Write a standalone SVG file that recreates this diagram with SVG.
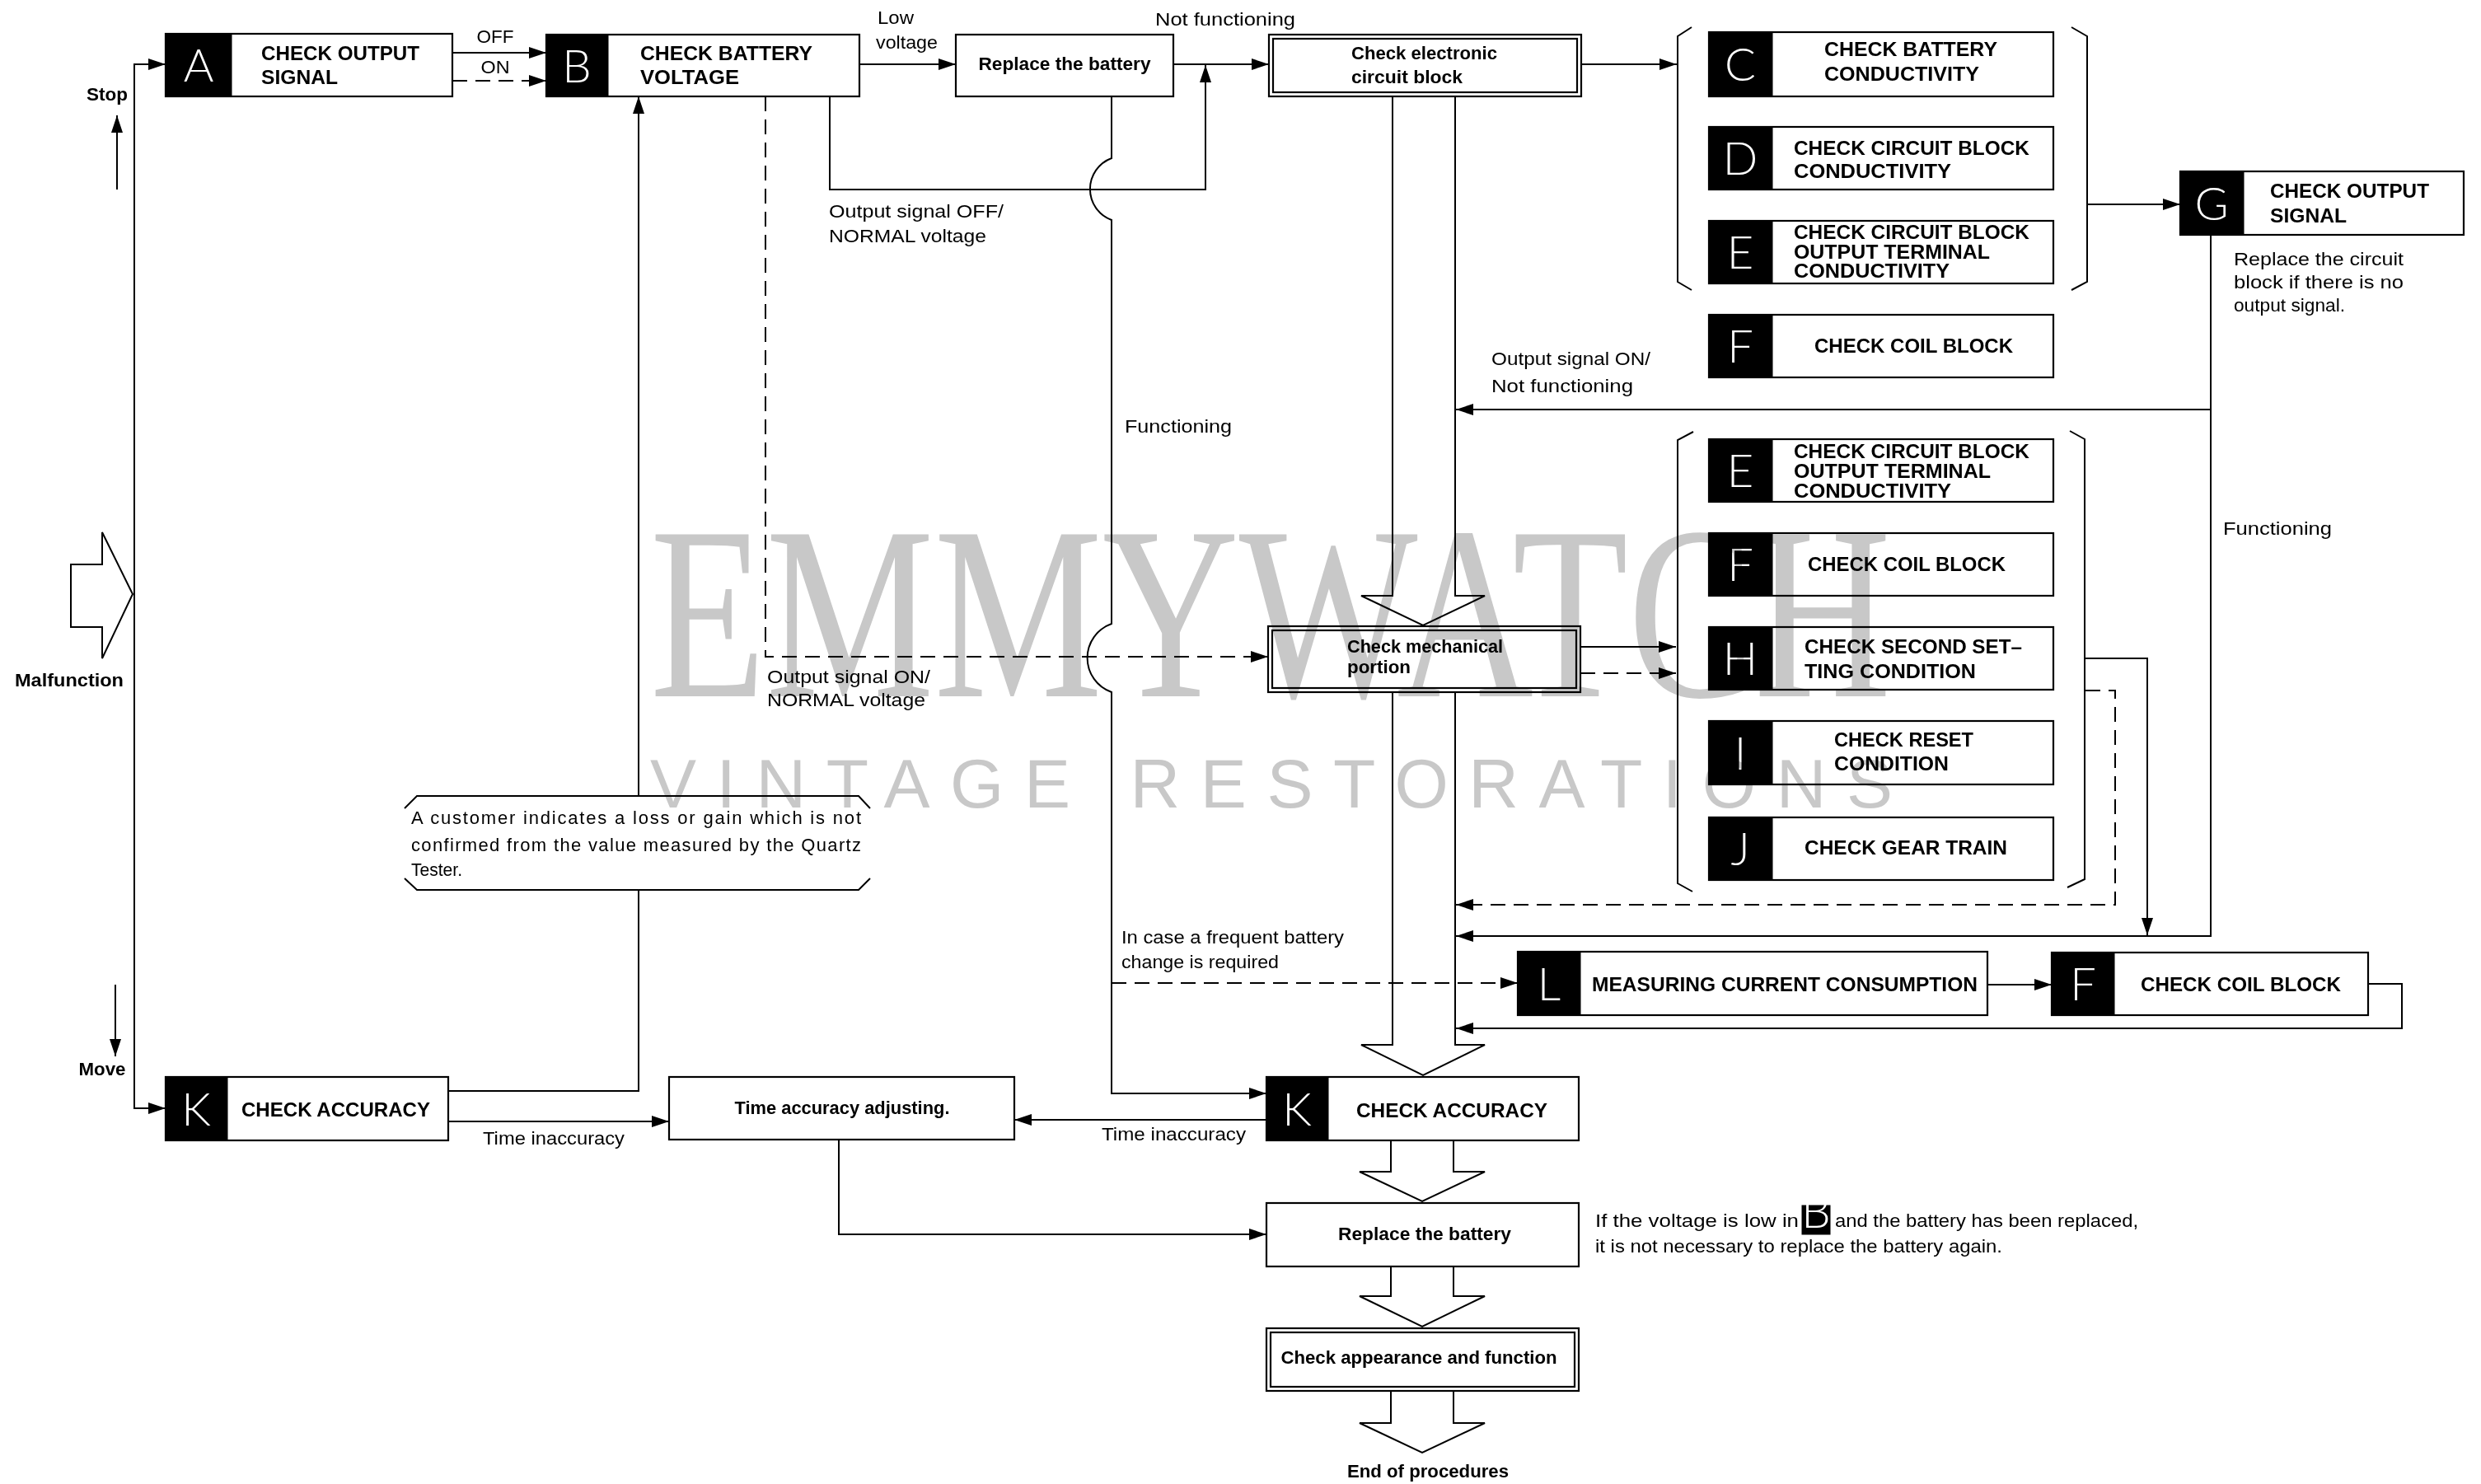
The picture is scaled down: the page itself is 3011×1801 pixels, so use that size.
<svg xmlns="http://www.w3.org/2000/svg" width="3011" height="1801" viewBox="0 0 3011 1801">
<defs>
<marker id="ah" markerUnits="userSpaceOnUse" markerWidth="22" markerHeight="16" refX="21" refY="7" orient="auto"><path d="M0,0 L21,7 L0,14 z" fill="#000"/></marker>
</defs>
<style>
.box{fill:#fff;stroke:#000;stroke-width:2.2}
.blk{fill:#000;stroke:#000;stroke-width:1}
.ln{fill:none;stroke:#000;stroke-width:2}
.ar{marker-end:url(#ah)}
.ds{stroke-dasharray:18 10}
.hol{fill:#fff;stroke:#000;stroke-width:2;stroke-linejoin:miter}
.cap{font-family:"Liberation Sans",Arial,sans-serif;font-weight:bold;font-size:23px;fill:#000}
.bm{font-family:"Liberation Sans",Arial,sans-serif;font-weight:bold;font-size:22px;fill:#000}
.rg{font-family:"Liberation Sans",Arial,sans-serif;font-size:22px;fill:#000}
.nt{font-family:"Liberation Sans",Arial,sans-serif;font-size:22px;fill:#000}
.ltr{font-family:Lato,"DejaVu Sans",sans-serif;font-weight:300;font-size:56px;fill:#fff;text-anchor:middle}
.mid{text-anchor:middle}
.wm{fill:#c8c8c8;mix-blend-mode:multiply}
</style>
<rect x="0" y="0" width="3011" height="1801" fill="#fff"/>

<g id="hollow-arrows">
<polygon id="malfunction-arrow" class="hol" points="86,685 124,685 124,646 161,721 124,799 124,761 86,761"/>
<polygon class="hol" points="1690,117 1690,723 1652,723 1727,759 1802,723 1766,723 1766,117"/>
<polygon class="hol" points="1690,840 1690,1268 1652,1268 1727,1305 1802,1268 1766,1268 1766,840"/>
<polygon class="hol" points="1688,1384 1688,1422 1650,1422 1726,1458 1802,1422 1764,1422 1764,1384"/>
<polygon class="hol" points="1688,1537 1688,1573 1650,1573 1726,1610 1802,1573 1764,1573 1764,1537"/>
<polygon class="hol" points="1688,1688 1688,1727 1650,1727 1726,1763 1802,1727 1764,1727 1764,1688"/>
</g>

<g id="connectors">
<path class="ln ar" d="M163,721 L163,78 L201,78"/>
<path class="ln ar" d="M163,721 L163,1345 L201,1345"/>
<path class="ln ar" d="M142,230 L142,140"/>
<path class="ln ar" d="M140,1195 L140,1282"/>
<path class="ln ar" d="M549,64 L663,64"/>
<path class="ln ar ds" d="M549,98 L663,98"/>
<path class="ln ar" d="M1043,78 L1160,78"/>
<path class="ln ar" d="M1424,78 L1540,78"/>
<path class="ln ar" d="M1007,117 L1007,230 L1463,230 L1463,79"/>
<path class="ln ar" d="M1349,117 L1349,192 A40,40 0 0 0 1349,267 L1349,757 A44,44 0 0 0 1349,840 L1349,1327 L1537,1327"/>
<path class="ln ar ds" d="M1349,1193 L1842,1193"/>
<path class="ln ar ds" d="M929,117 L929,797 L1539,797"/>
<path class="ln ar" d="M775,966 L775,117"/>
<path class="ln" d="M775,1080 L775,1324 L544,1324"/>
<path class="ln ar" d="M544,1361 L812,1361"/>
<path class="ln ar" d="M1537,1359 L1231,1359"/>
<path class="ln ar" d="M1018,1383 L1018,1498 L1537,1498"/>
<path class="ln ar" d="M1919,78 L2035,78"/>
<path class="ln ar" d="M2533,248 L2646,248"/>
<path class="ln ar" d="M2683,285 L2683,1136 L1767,1136"/>
<path class="ln ar" d="M2683,497 L1767,497"/>
<path class="ln ar" d="M1918,785 L2034,785"/>
<path class="ln ar ds" d="M1918,817 L2034,817"/>
<path class="ln ar" d="M2531,799 L2606,799 L2606,1135"/>
<path class="ln ar ds" d="M2531,838 L2567,838 L2567,1098 L1767,1098"/>
<path class="ln ar" d="M2412,1195 L2490,1195"/>
<path class="ln ar" d="M2874,1194 L2915,1194 L2915,1248 L1767,1248"/>
</g>

<g id="brackets">
<path class="ln" d="M2053,33 L2036,44 L2036,342 L2053,352"/>
<path class="ln" d="M2514,33 L2533,44 L2533,342 L2514,352"/>
<path class="ln" d="M2055,524 L2036,534 L2036,1072 L2054,1082"/>
<path class="ln" d="M2512,523 L2530,533 L2530,1067 L2509,1077"/>
</g>

<g id="labels">
<text class="rg mid" x="601" y="52" textLength="45" lengthAdjust="spacingAndGlyphs">OFF</text>
<text class="rg mid" x="601" y="89" textLength="35" lengthAdjust="spacingAndGlyphs">ON</text>
<text class="rg" x="1065" y="29" textLength="44" lengthAdjust="spacingAndGlyphs">Low</text>
<text class="rg" x="1063" y="59" textLength="75" lengthAdjust="spacingAndGlyphs">voltage</text>
<text class="rg" x="1402" y="31" textLength="170" lengthAdjust="spacingAndGlyphs">Not functioning</text>
<text class="rg" x="1006" y="264" textLength="212" lengthAdjust="spacingAndGlyphs">Output signal OFF/</text>
<text class="rg" x="1006" y="294" textLength="191" lengthAdjust="spacingAndGlyphs">NORMAL voltage</text>
<text class="rg" x="931" y="829" textLength="198" lengthAdjust="spacingAndGlyphs">Output signal ON/</text>
<text class="rg" x="931" y="857" textLength="192" lengthAdjust="spacingAndGlyphs">NORMAL voltage</text>
<text class="rg" x="1365" y="525" textLength="130" lengthAdjust="spacingAndGlyphs">Functioning</text>
<text class="rg" x="1810" y="443" textLength="193" lengthAdjust="spacingAndGlyphs">Output signal ON/</text>
<text class="rg" x="1810" y="476" textLength="172" lengthAdjust="spacingAndGlyphs">Not functioning</text>
<text class="rg" x="2698" y="649" textLength="132" lengthAdjust="spacingAndGlyphs">Functioning</text>
<text class="rg" x="2711" y="322" textLength="206" lengthAdjust="spacingAndGlyphs">Replace the circuit</text>
<text class="rg" x="2711" y="350" textLength="206" lengthAdjust="spacingAndGlyphs">block if there is no</text>
<text class="rg" x="2711" y="378" textLength="135" lengthAdjust="spacingAndGlyphs">output signal.</text>
<text class="rg" x="1361" y="1145" textLength="270" lengthAdjust="spacingAndGlyphs">In case a frequent battery</text>
<text class="rg" x="1361" y="1175" textLength="191" lengthAdjust="spacingAndGlyphs">change is required</text>
<text class="rg" x="586" y="1389" textLength="172" lengthAdjust="spacingAndGlyphs">Time inaccuracy</text>
<text class="rg" x="1337" y="1384" textLength="175" lengthAdjust="spacingAndGlyphs">Time inaccuracy</text>
<text class="bm mid" x="130" y="122" textLength="50" lengthAdjust="spacingAndGlyphs">Stop</text>
<text class="bm mid" x="124" y="1305" textLength="57" lengthAdjust="spacingAndGlyphs">Move</text>
<text class="bm mid" x="84" y="833" textLength="132" lengthAdjust="spacingAndGlyphs">Malfunction</text>
<text class="bm mid" x="1733" y="1793" textLength="196" lengthAdjust="spacingAndGlyphs">End of procedures</text>
</g>

<g id="note-customer">
<path class="ln" d="M491,981 L506,966 L1042,966 L1056,981"/>
<path class="ln" d="M491,1066 L506,1080 L1042,1080 L1056,1066"/>
<text class="nt" x="499" y="1000" textLength="546" lengthAdjust="spacing">A customer indicates a loss or gain which is not</text>
<text class="nt" x="499" y="1033" textLength="546" lengthAdjust="spacing">confirmed from the value measured by the Quartz</text>
<text class="nt" x="499" y="1063" textLength="62" lengthAdjust="spacingAndGlyphs">Tester.</text>
</g>

<g id="note-battery">
<text class="rg" x="1936" y="1489" textLength="247" lengthAdjust="spacingAndGlyphs">If the voltage is low in</text>
<rect class="blk" x="2187" y="1463" width="34" height="35"/>
<text class="ltr" x="2204" y="1490" font-size="28">B</text>
<text class="rg" x="2227" y="1489" textLength="368" lengthAdjust="spacingAndGlyphs">and the battery has been replaced,</text>
<text class="rg" x="1936" y="1520" textLength="494" lengthAdjust="spacingAndGlyphs">it is not necessary to replace the battery again.</text>
</g>

<g id="node-A">
<rect class="box" x="201" y="41" width="348" height="76"/>
<rect class="blk" x="201" y="41" width="80" height="76"/>
<text class="ltr" x="241" y="99">A</text>
<text class="cap" x="317" y="73" textLength="192" lengthAdjust="spacingAndGlyphs">CHECK OUTPUT</text>
<text class="cap" x="317" y="102" textLength="93" lengthAdjust="spacingAndGlyphs">SIGNAL</text>
</g>
<g id="node-B">
<rect class="box" x="663" y="42" width="380" height="75"/>
<rect class="blk" x="663" y="42" width="75" height="75"/>
<text class="ltr" x="700" y="100">B</text>
<text class="cap" x="777" y="73" textLength="209" lengthAdjust="spacingAndGlyphs">CHECK BATTERY</text>
<text class="cap" x="777" y="102" textLength="120" lengthAdjust="spacingAndGlyphs">VOLTAGE</text>
</g>
<g id="node-replace1">
<rect class="box" x="1160" y="42" width="264" height="75"/>
<text class="bm mid" x="1292" y="85" textLength="209" lengthAdjust="spacingAndGlyphs">Replace the battery</text>
</g>
<g id="node-electronic">
<rect class="box" x="1540" y="42" width="379" height="75"/>
<rect class="box" x="1545" y="47" width="369" height="65"/>
<text class="bm" x="1640" y="72" textLength="177" lengthAdjust="spacingAndGlyphs">Check electronic</text>
<text class="bm" x="1640" y="101" textLength="135" lengthAdjust="spacingAndGlyphs">circuit block</text>
</g>
<g id="node-C">
<rect class="box" x="2074" y="39" width="418" height="78"/>
<rect class="blk" x="2074" y="39" width="77" height="78"/>
<text class="ltr" x="2112" y="98">C</text>
<text class="cap" x="2214" y="68" textLength="210" lengthAdjust="spacingAndGlyphs">CHECK BATTERY</text>
<text class="cap" x="2214" y="98" textLength="188" lengthAdjust="spacingAndGlyphs">CONDUCTIVITY</text>
</g>
<g id="node-D">
<rect class="box" x="2074" y="154" width="418" height="76"/>
<rect class="blk" x="2074" y="154" width="77" height="76"/>
<text class="ltr" x="2112" y="212">D</text>
<text class="cap" x="2177" y="188" textLength="286" lengthAdjust="spacingAndGlyphs">CHECK CIRCUIT BLOCK</text>
<text class="cap" x="2177" y="216" textLength="191" lengthAdjust="spacingAndGlyphs">CONDUCTIVITY</text>
</g>
<g id="node-E1">
<rect class="box" x="2074" y="268" width="418" height="76"/>
<rect class="blk" x="2074" y="268" width="77" height="76"/>
<text class="ltr" x="2112" y="326">E</text>
<text class="cap" x="2177" y="290" font-size="21" textLength="286" lengthAdjust="spacingAndGlyphs">CHECK CIRCUIT BLOCK</text>
<text class="cap" x="2177" y="314" font-size="21" textLength="238" lengthAdjust="spacingAndGlyphs">OUTPUT TERMINAL</text>
<text class="cap" x="2177" y="337" font-size="21" textLength="189" lengthAdjust="spacingAndGlyphs">CONDUCTIVITY</text>
</g>
<g id="node-F1">
<rect class="box" x="2074" y="382" width="418" height="76"/>
<rect class="blk" x="2074" y="382" width="77" height="76"/>
<text class="ltr" x="2112" y="440">F</text>
<text class="cap" x="2202" y="428" textLength="241" lengthAdjust="spacingAndGlyphs">CHECK COIL BLOCK</text>
</g>
<g id="node-G">
<rect class="box" x="2646" y="208" width="344" height="77"/>
<rect class="blk" x="2646" y="208" width="77" height="77"/>
<text class="ltr" x="2684" y="267">G</text>
<text class="cap" x="2755" y="240" textLength="193" lengthAdjust="spacingAndGlyphs">CHECK OUTPUT</text>
<text class="cap" x="2755" y="270" textLength="93" lengthAdjust="spacingAndGlyphs">SIGNAL</text>
</g>
<g id="node-mechanical">
<rect class="box" x="1539" y="760" width="379" height="80"/>
<rect class="box" x="1544" y="765" width="369" height="70"/>
<text class="bm" x="1635" y="792" textLength="189" lengthAdjust="spacingAndGlyphs">Check mechanical</text>
<text class="bm" x="1635" y="817" textLength="77" lengthAdjust="spacingAndGlyphs">portion</text>
</g>
<g id="node-E2">
<rect class="box" x="2074" y="533" width="418" height="76"/>
<rect class="blk" x="2074" y="533" width="77" height="76"/>
<text class="ltr" x="2112" y="591">E</text>
<text class="cap" x="2177" y="556" font-size="21" textLength="286" lengthAdjust="spacingAndGlyphs">CHECK CIRCUIT BLOCK</text>
<text class="cap" x="2177" y="580" font-size="21" textLength="239" lengthAdjust="spacingAndGlyphs">OUTPUT TERMINAL</text>
<text class="cap" x="2177" y="604" font-size="21" textLength="191" lengthAdjust="spacingAndGlyphs">CONDUCTIVITY</text>
</g>
<g id="node-F2">
<rect class="box" x="2074" y="647" width="418" height="76"/>
<rect class="blk" x="2074" y="647" width="77" height="76"/>
<text class="ltr" x="2112" y="705">F</text>
<text class="cap" x="2194" y="693" textLength="240" lengthAdjust="spacingAndGlyphs">CHECK COIL BLOCK</text>
</g>
<g id="node-H">
<rect class="box" x="2074" y="761" width="418" height="76"/>
<rect class="blk" x="2074" y="761" width="77" height="76"/>
<text class="ltr" x="2112" y="819">H</text>
<text class="cap" x="2190" y="793" textLength="264" lengthAdjust="spacingAndGlyphs">CHECK SECOND SET–</text>
<text class="cap" x="2190" y="823" textLength="208" lengthAdjust="spacingAndGlyphs">TING CONDITION</text>
</g>
<g id="node-I">
<rect class="box" x="2074" y="875" width="418" height="77"/>
<rect class="blk" x="2074" y="875" width="77" height="77"/>
<text class="ltr" x="2112" y="934">I</text>
<text class="cap" x="2226" y="906" textLength="169" lengthAdjust="spacingAndGlyphs">CHECK RESET</text>
<text class="cap" x="2226" y="935" textLength="139" lengthAdjust="spacingAndGlyphs">CONDITION</text>
</g>
<g id="node-J">
<rect class="box" x="2074" y="992" width="418" height="76"/>
<rect class="blk" x="2074" y="992" width="77" height="76"/>
<text class="ltr" x="2112" y="1050">J</text>
<text class="cap" x="2190" y="1037" textLength="246" lengthAdjust="spacingAndGlyphs">CHECK GEAR TRAIN</text>
</g>
<g id="node-L">
<rect class="box" x="1842" y="1155" width="570" height="77"/>
<rect class="blk" x="1842" y="1155" width="76" height="77"/>
<text class="ltr" x="1880" y="1214">L</text>
<text class="cap" x="1932" y="1203" textLength="468" lengthAdjust="spacingAndGlyphs">MEASURING CURRENT CONSUMPTION</text>
</g>
<g id="node-F3">
<rect class="box" x="2490" y="1156" width="384" height="76"/>
<rect class="blk" x="2490" y="1156" width="76" height="76"/>
<text class="ltr" x="2528" y="1214">F</text>
<text class="cap" x="2598" y="1203" textLength="243" lengthAdjust="spacingAndGlyphs">CHECK COIL BLOCK</text>
</g>
<g id="node-K1">
<rect class="box" x="201" y="1307" width="343" height="77"/>
<rect class="blk" x="201" y="1307" width="75" height="77"/>
<text class="ltr" x="238" y="1366">K</text>
<text class="cap" x="293" y="1355" textLength="229" lengthAdjust="spacingAndGlyphs">CHECK ACCURACY</text>
</g>
<g id="node-timeadj">
<rect class="box" x="812" y="1307" width="419" height="76"/>
<text class="bm mid" x="1022" y="1352" textLength="261" lengthAdjust="spacingAndGlyphs">Time accuracy adjusting.</text>
</g>
<g id="node-K2">
<rect class="box" x="1537" y="1307" width="379" height="77"/>
<rect class="blk" x="1537" y="1307" width="75" height="77"/>
<text class="ltr" x="1574" y="1366">K</text>
<text class="cap" x="1646" y="1356" textLength="232" lengthAdjust="spacingAndGlyphs">CHECK ACCURACY</text>
</g>
<g id="node-replace2">
<rect class="box" x="1537" y="1460" width="379" height="77"/>
<text class="bm mid" x="1729" y="1505" textLength="210" lengthAdjust="spacingAndGlyphs">Replace the battery</text>
</g>
<g id="node-appearance">
<rect class="box" x="1537" y="1612" width="379" height="76"/>
<rect class="box" x="1542" y="1617" width="369" height="66"/>
<text class="bm mid" x="1722" y="1655" textLength="335" lengthAdjust="spacingAndGlyphs">Check appearance and function</text>
</g>

<g id="watermark">
<text class="wm" x="789" y="845" font-family="'Liberation Serif',serif" font-size="300" textLength="1506" lengthAdjust="spacingAndGlyphs">EMMYWATCH</text>
<text class="wm" x="789" y="980" font-family="'Liberation Sans',sans-serif" font-size="84" textLength="1508" lengthAdjust="spacing">VINTAGE RESTORATIONS</text>
</g>
</svg>
